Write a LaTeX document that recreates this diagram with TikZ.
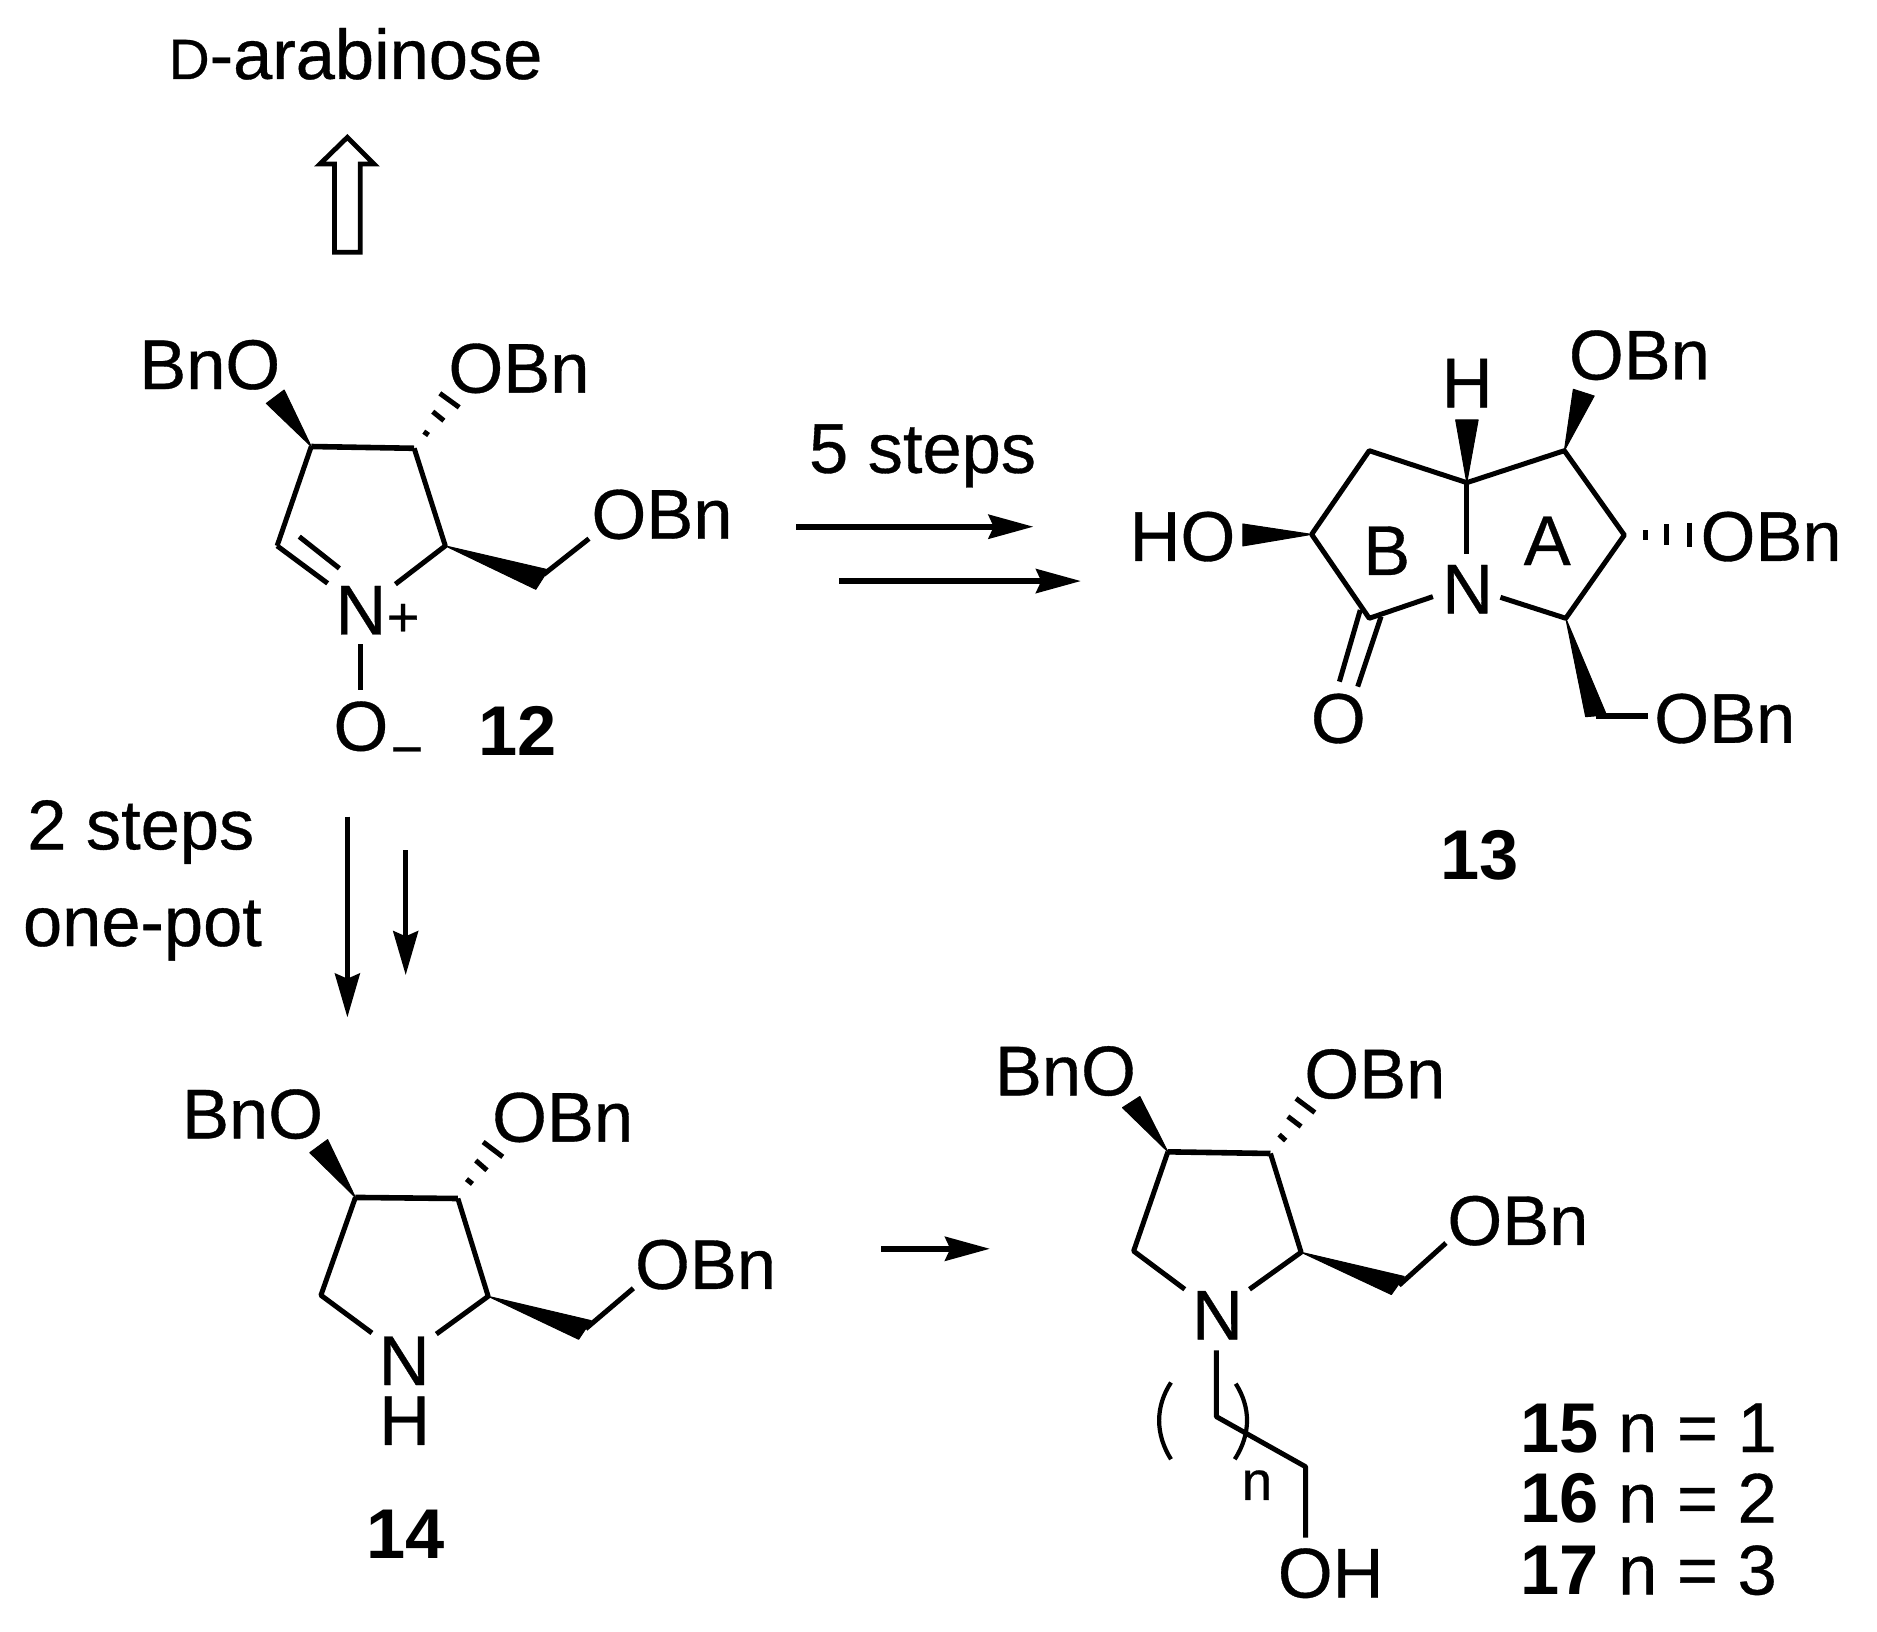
\documentclass[tikz,border=0pt]{standalone}
\usepackage{fontspec}
\setmainfont{Liberation Sans}[UprightFeatures={FakeBold=0.5}]
\usetikzlibrary{arrows.meta}
\tikzset{
  txt/.style={anchor=base,inner sep=0pt,outer sep=0pt,font=\fontsize{35.3}{40}\selectfont},
  lbl/.style={txt,font=\fontsize{35.3}{40}\selectfont\bfseries},
  txtw/.style={txt,anchor=base west},
  small/.style={txt,font=\fontsize{28}{32}\selectfont},
  bond/.style={draw=black,line width=2.5pt,line join=round},
  hbond/.style={bond,line width=2.8pt},
  wedge/.style={fill=black,draw=black,line width=0.5pt,line join=round},
  hashb/.style={draw=black,line width=2.5pt},
  paren/.style={draw=black,line width=2.1pt},
  rxnh/.style={draw=black,line width=2.8pt,-{Stealth[length=22.5pt,width=12pt,inset=2.6pt]}},
  rxnv/.style={draw=black,line width=2.35pt,-{Stealth[length=22pt,width=12.5pt,inset=2.6pt]}},
  retro/.style={draw=black,line width=2.4pt,line join=miter,fill=white},
}
\begin{document}
\begin{tikzpicture}[x=0.6pt,y=-0.6pt]
\useasboundingbox (0,0) rectangle (1568,1362.5);
% top
\node[txt] (darab) at (297,66) {{\fontsize{28.5}{30}\selectfont D}-arabinose};
\coordinate (ra) at (279.4,210.8);
\coordinate (rb) at (300.9,210.8);
\draw[retro] (ra) -- (279.4,137) -- (267.3,137) -- (290.2,114.7) -- (312.5,137) -- (300.9,137) -- (rb) -- cycle;
% compound 12
\coordinate (a3) at (260,373);
\coordinate (a4) at (346,374.5);
\coordinate (a5) at (372,456);
\coordinate (a2) at (231.5,456);
\coordinate (a2n) at (273.7,487.3);
\coordinate (a5n) at (330.3,488);
\coordinate (a6) at (453,484);
\node[txt] (aBnO) at (175.2,325) {BnO};
\node[txt] (aOBn1) at (433.5,328) {OBn};
\node[txt] (aOBn2) at (553,450) {OBn};
\node[txt] (aN) at (301.6,530) {N};
\node[small] (aplus) at (336.7,531.5) {+};
\node[txt] (aO) at (301.5,627) {O};
\node[small,anchor=center] (aminus) at (340,633) {−};
\node[lbl] (l12) at (432.7,631) {12};
\draw[bond] (a2) -- (a3);
\draw[hbond] (a3) -- (a4);
\draw[bond] (a4) -- (a5) -- (a5n);
\draw[bond] (a2) -- (a2n);
\draw[bond] (250,448.3) -- (283.5,474.8);
\draw[wedge] (a3) -- (222.5,337) -- (237.4,325.8) -- cycle;
\draw[hashb] (354,360.6) -- (358,363.4);
\draw[hashb] (361.5,343.9) -- (370.8,351.4);
\draw[hashb] (367.4,328.6) -- (383.6,340.3);
\draw[wedge] (a5) -- (458,476) -- (447.6,492.3) -- cycle;
\draw[bond] (454,480) -- (492,450);
\draw[bond] (301.4,538.3) -- (301.4,576.4);
% arrows to 13
\coordinate (h1s) at (665,440);
\coordinate (h1e) at (863.3,440);
\coordinate (h2s) at (700.9,485.4);
\coordinate (h2e) at (903,485.4);
\draw[rxnh] (h1s) -- (h1e);
\draw[rxnh] (h2s) -- (h2e);
\node[txt] (five) at (770.7,395) {5 steps};
% compound 13
\coordinate (b8) at (1225.3,403.2);
\coordinate (b7) at (1143.8,376.5);
\coordinate (b6) at (1095.7,446.4);
\coordinate (b5) at (1143.8,516.5);
\coordinate (b1) at (1306.8,376.5);
\coordinate (b2) at (1356.9,447);
\coordinate (b3) at (1308,516.5);
\coordinate (bnb) at (1225.3,462.8);
\coordinate (bnl) at (1197,498.4);
\coordinate (bnr) at (1253.4,499);
\coordinate (bch) at (1333,598);
\coordinate (bchO) at (1376.4,598);
\node[txt] (bH) at (1225.7,340.3) {H};
\node[txt] (bOBn1) at (1369.5,317) {OBn};
\node[txt] (bHO) at (987.8,468.5) {HO};
\node[txt] (bB) at (1158.4,480.3) {B};
\node[txt] (bA) at (1292.5,472) {A};
\node[txt] (bN) at (1226,512.4) {N};
\node[txt] (bOBn2) at (1479.5,468.5) {OBn};
\node[txt] (bO) at (1118,620.5) {O};
\node[txt] (bOBn3) at (1440.8,620.5) {OBn};
\node[lbl] (l13) at (1236,735) {13};
\draw[bond] (b8) -- (b7) -- (b6) -- (b5) -- (bnl);
\draw[bond] (b8) -- (b1) -- (b2) -- (b3) -- (bnr);
\draw[bond] (b8) -- (bnb);
\draw[bond] (1136.3,509.6) -- (1118.9,569.4);
\draw[bond] (1153.7,515) -- (1134.2,573.6);
\draw[wedge] (b8) -- (1216,350.8) -- (1234.8,350.8) -- cycle;
\draw[wedge] (b1) -- (1314.3,325.2) -- (1331.7,330.8) -- cycle;
\draw[wedge] (b6) -- (1038.2,437.7) -- (1038.2,456.1) -- cycle;
\draw[wedge] (b3) -- (1324.6,598.7) -- (1342,597.3) -- cycle;
\draw[hbond] (bch) -- (bchO);
\draw[hashb] (1374.3,443) -- (1374.3,451);
\draw[hashb] (1392,438) -- (1392,455);
\draw[hashb] (1411.5,436.6) -- (1411.5,457.2);
% left text and arrows
\node[txt] (two) at (117.6,709.5) {2 steps};
\node[txt] (onepot) at (119,790.3) {one-pot};
\coordinate (v1s) at (290.2,682.2);
\coordinate (v1e) at (290.2,849.9);
\coordinate (v2s) at (338.9,710.1);
\coordinate (v2e) at (338.9,814.5);
\draw[rxnv] (v1s) -- (v1e);
\draw[rxnv] (v2s) -- (v2e);
% compound 14
\coordinate (c3) at (296.9,1000.3);
\coordinate (c4) at (382.5,1001.2);
\coordinate (c5) at (407.8,1082.9);
\coordinate (c2) at (268.1,1082);
\coordinate (c2n) at (310.7,1113.5);
\coordinate (c5n) at (364.5,1114.4);
\node[txt] (cBnO) at (211,951) {BnO};
\node[txt] (cOBn1) at (470,953.7) {OBn};
\node[txt] (cOBn2) at (589.4,1076.7) {OBn};
\node[txt] (cN) at (337.7,1157) {N};
\node[txt] (cH) at (338,1207) {H};
\node[lbl] (l14) at (338.5,1302) {14};
\draw[bond] (c2n) -- (c2) -- (c3);
\draw[hbond] (c3) -- (c4);
\draw[bond] (c4) -- (c5) -- (c5n);
\draw[wedge] (c3) -- (258.8,962.9) -- (273.7,952) -- cycle;
\draw[hashb] (389.7,985) -- (394.7,989);
\draw[hashb] (397.4,969.4) -- (406.8,977.6);
\draw[hashb] (403.6,954) -- (420,966.4);
\draw[wedge] (c5) -- (493.8,1103.2) -- (483.4,1118.8) -- cycle;
\draw[bond] (489.3,1110) -- (529.1,1076.2);
% arrow 14 to 15
\coordinate (h3s) at (736,1043.2);
\coordinate (h3e) at (827,1043.2);
\draw[rxnh] (h3s) -- (h3e);
% compound 15-17
\coordinate (d3) at (975.6,962.2);
\coordinate (d4) at (1061.3,963.6);
\coordinate (d5) at (1086.9,1046.1);
\coordinate (d2) at (947,1045.1);
\coordinate (d2n) at (989.7,1077);
\coordinate (d5n) at (1043.8,1077);
\coordinate (dc1) at (1016.1,1128);
\coordinate (dc2) at (1016.1,1183.4);
\coordinate (dc3) at (1090.7,1225.3);
\coordinate (dc4) at (1090.7,1284.4);
\node[txt] (dBnO) at (890,915) {BnO};
\node[txt] (dOBn1) at (1148.5,917.5) {OBn};
\node[txt] (dN) at (1017,1119) {N};
\node[txt] (dOBn2) at (1268,1040) {OBn};
\node[txt] (dOH) at (1111.6,1334.5) {OH};
\node[small,font=\fontsize{27.6}{30}\selectfont] (dn) at (1050,1253) {n};
\draw[bond] (d2n) -- (d2) -- (d3);
\draw[hbond] (d3) -- (d4);
\draw[bond] (d4) -- (d5) -- (d5n);
\draw[wedge] (d3) -- (937.7,925.3) -- (952.2,916) -- cycle;
\draw[hashb] (1068.5,947.8) -- (1074,952.8);
\draw[hashb] (1075.8,932.7) -- (1086.9,941.1);
\draw[hashb] (1082.6,917.6) -- (1098.4,929.4);
\draw[wedge] (d5) -- (1173,1066.3) -- (1162.3,1081.4) -- cycle;
\draw[bond] (1168.7,1073.7) -- (1207.9,1038.4);
\draw[bond] (dc1) -- (dc2) -- (dc3) -- (dc4);
\draw[paren] (978.2,1154.9) .. controls (965,1175) and (965,1198) .. (978.2,1219);
\draw[paren] (1032.3,1155.9) .. controls (1045,1176) and (1045,1198) .. (1031.5,1219);
\node[txtw] (t15) at (1270,1213) {\textbf{15} n = 1};
\node[txtw] (t16) at (1270,1272) {\textbf{16} n = 2};
\node[txtw] (t17) at (1270,1332) {\textbf{17} n = 3};
\end{tikzpicture}
\end{document}
